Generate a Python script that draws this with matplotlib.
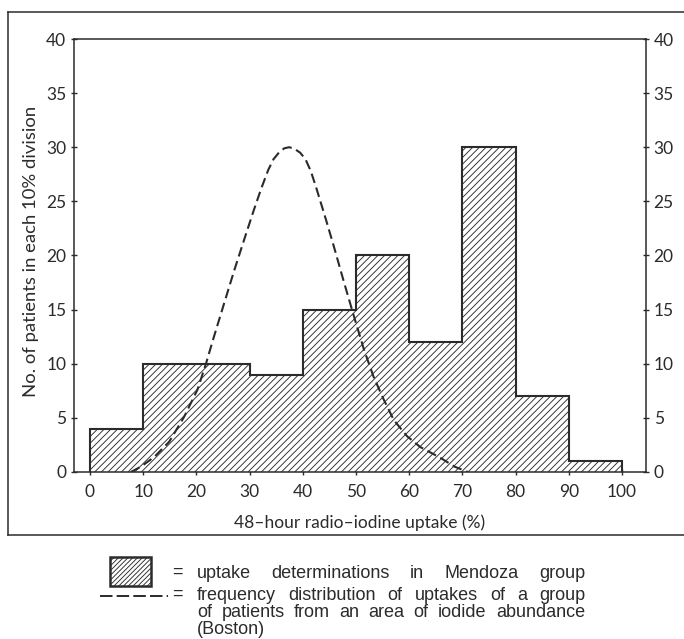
import matplotlib
matplotlib.use('Agg')
import matplotlib.pyplot as plt
from matplotlib.patches import Rectangle
from matplotlib.lines import Line2D

# Mendoza group: patients per 10% uptake division
bin_edges = [0, 10, 20, 30, 40, 50, 60, 70, 80, 90, 100]
mendoza_counts = [4, 10, 10, 9, 15, 20, 12, 30, 7, 1]

# Boston frequency curve
boston_x = [7.7, 9.6, 12.1, 14.9, 17.7, 20.2, 21.8, 23.3, 25.6, 27.1, 29.0, 30.8,
            32.2, 33.5, 34.5, 35.5, 36.5, 37.4, 38.3, 39.5, 40.5, 41.5, 42.5, 44.3,
            45.8, 47.7, 49.6, 51.5, 53.3, 55.2, 57.1, 59.6, 62.1, 65.9, 68.5, 71.0]
boston_y = [0, 0.5, 1.4, 2.8, 5.1, 7.6, 10.0, 12.5, 16.2, 18.6, 21.5, 24.2,
            26.2, 27.9, 28.9, 29.5, 29.9, 30.0, 29.9, 29.5, 28.9, 27.8, 26.3, 23.4,
            20.9, 17.6, 14.4, 11.3, 8.8, 6.7, 4.8, 3.3, 2.3, 1.3, 0.5, 0]

x_ticks = [0, 10, 20, 30, 40, 50, 60, 70, 80, 90, 100]
y_ticks = [0, 5, 10, 15, 20, 25, 30, 35, 40]

legend_hist = ['uptake', 'determinations', 'in', 'Mendoza', 'group']
legend_curve = ['frequency distribution of uptakes of a group',
                'of patients from an area of iodide abundance',
                '(Boston)']

ink = '#2b2b2b'
plt.rcParams['hatch.linewidth'] = 0.65
plt.rcParams['lines.scale_dashes'] = False
axis_font = 'Lato'
legend_font = 'Liberation Sans'

W, H = 684, 639
fig = plt.figure(figsize=(W / 100, H / 100), dpi=100)
ax = fig.add_axes([74/W, 1 - 472/H, (646 - 74)/W, (472 - 39)/H])

ax.stairs(mendoza_counts, bin_edges, fill=True, facecolor='white',
          edgecolor=ink, linewidth=1.5, hatch='/////', zorder=2)
ax.plot(boston_x, boston_y, color=ink, linewidth=1.5, dashes=(7, 3.5), zorder=3)

ax.set_xlim(-3.0, 104.5)
ax.set_ylim(0, 40)
ax.set_xticks(x_ticks)
ax.set_yticks(y_ticks)
for s in ax.spines.values():
    s.set_color(ink)
    s.set_linewidth(1.1)
ax.tick_params(axis='both', direction='inout', length=5, width=1, color=ink,
               labelcolor=ink, labelsize=12.5)
ax.tick_params(axis='y', right=True, labelright=True, pad=3)
ax.tick_params(axis='x', pad=6)
for lab in ax.get_xticklabels() + ax.get_yticklabels():
    lab.set_fontfamily(axis_font)

ax.set_xlabel('48\u2013hour radio\u2013iodine uptake (%)', fontsize=12.5,
              color=ink, family=axis_font)
ax.xaxis.set_label_coords(0.5, -0.098)
ax.set_ylabel('No. of patients in each 10% division', fontsize=13.3,
              color=ink, family=axis_font)
ax.yaxis.set_label_coords(-0.062, 0.51)


def fx(px):
    return px / W


def fy(py):
    return 1 - py / H


# outer frame around the graph (right side is cut off in the reference)
for xs, ys in [([8, 690], [12, 12]), ([8, 8], [12, 535]), ([8, 690], [535, 535])]:
    fig.add_artist(Line2D([fx(v) for v in xs], [fy(v) for v in ys],
                          color=ink, linewidth=1.1))

# legend drawn below the frame
box = Rectangle((fx(110), fy(586)), fx(151) - fx(110), fy(557) - fy(586),
                transform=fig.transFigure, facecolor='white', edgecolor=ink,
                linewidth=1.8, hatch='///////')
fig.add_artist(box)
fig.add_artist(Line2D([fx(100), fx(168)], [fy(596), fy(596)], color=ink,
                      linewidth=1.4, dashes=(9, 3)))

tkw = dict(fontsize=13, color=ink, family=legend_font, va='baseline', ha='left')
fig.text(fx(172), fy(577), '=', **tkw)
fig.text(fx(172), fy(599), '=', **tkw)

renderer = fig.canvas.get_renderer()


def justify(words, x0, x1, y):
    # spread words so the line runs from x0 to x1 (pixels)
    items = [fig.text(fx(x0), fy(y), w, **tkw) for w in words]
    widths = [t.get_window_extent(renderer).width for t in items]
    gap = (x1 - x0 - sum(widths)) / (len(words) - 1)
    pos = x0
    for t, w in zip(items, widths):
        t.set_x(fx(pos))
        pos += w + gap


justify(legend_hist, 197, 585, 578)
justify(legend_curve[0].split(), 197, 585, 600)
justify(legend_curve[1].split(), 197, 585, 617)
fig.text(fx(197), fy(634), legend_curve[2], **tkw)

fig.savefig('out.png', dpi=100)
